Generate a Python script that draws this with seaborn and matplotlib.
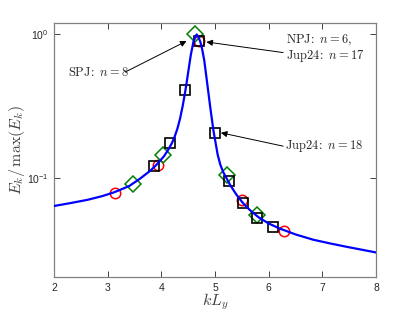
import numpy as np
import pandas as pd
import seaborn as sns
import matplotlib
matplotlib.use('Agg')
import matplotlib.pyplot as plt

# curve
curve_k = [2.00, 2.30, 2.62, 2.90, 3.12, 3.40, 3.60, 3.80, 3.91, 4.05, 4.13, 4.20, 4.25, 4.30,
           4.35, 4.40, 4.44, 4.47, 4.50, 4.55, 4.60, 4.63, 4.66, 4.70, 4.73, 4.76, 4.80, 4.845,
           4.91, 4.97, 5.05, 5.10, 5.155, 5.28, 5.40, 5.53, 5.65, 5.81, 6.00, 6.20, 6.50, 6.83,
           7.15, 7.45, 7.75, 8.00]
curve_E = [0.0640, 0.0670, 0.0706, 0.0750, 0.0797, 0.0880, 0.0990, 0.113, 0.124, 0.142,
           0.158, 0.176, 0.195, 0.221, 0.260, 0.320, 0.389, 0.457, 0.543, 0.721, 0.894, 0.960,
           1.000, 0.944, 0.881, 0.794, 0.661, 0.490, 0.316, 0.216, 0.146, 0.124, 0.110, 0.0900,
           0.0767, 0.0665, 0.0600, 0.0535, 0.0484, 0.0447, 0.0406, 0.0373, 0.0351, 0.0333,
           0.0317, 0.0304]

# NPJ (red circles)
npj_k = [3.14, 3.93, 4.71, 5.50, 6.28]
npj_E = [0.079, 0.124, 0.898, 0.070, 0.043]
# SPJ (green diamonds)
spj_k = [3.47, 4.03, 4.63, 5.22, 5.79]
spj_E = [0.091, 0.145, 1.00, 0.106, 0.055]
# Jup24 (black squares)
jup_k = [3.87, 4.16, 4.44, 4.70, 5.00, 5.27, 5.53, 5.79, 6.09]
jup_E = [0.121, 0.176, 0.413, 0.898, 0.207, 0.096, 0.067, 0.053, 0.046]

sns.set_style('ticks')
plt.rcParams['mathtext.fontset'] = 'cm'
plt.rcParams['font.family'] = ['Liberation Sans', 'DejaVu Sans']

fig = plt.figure(figsize=(4.15, 3.12), dpi=100)
ax = fig.add_axes([0.130, 0.112, 0.776, 0.814])

curve = pd.DataFrame({'k': curve_k, 'E': curve_E})
sns.lineplot(data=curve, x='k', y='E', ax=ax, color='#0000ff', lw=1.6, zorder=5,
             estimator=None, sort=False)

ax.plot(npj_k, npj_E, 'o', ms=7.5, mfc='none', mec='#ff0000', mew=1.1, zorder=3)
ax.plot(spj_k, spj_E, 'D', ms=8, mfc='none', mec='#008000', mew=1.1, zorder=3)
ax.plot(jup_k, jup_E, 's', ms=7, mfc='none', mec='black', mew=1.2, zorder=4)

ax.set_yscale('log')
ax.set_xlim(2, 8)
ax.set_ylim(0.0205, 1.2)
ax.set_xticks([2, 3, 4, 5, 6, 7, 8])
ax.set_yticks([0.1, 1.0])
ax.minorticks_off()
ax.tick_params(direction='in', top=True, right=True, length=4, width=0.7,
               labelsize=7.5, colors='#404040', labelcolor='#262626', pad=4)
for s in ax.spines.values():
    s.set_color('#808080')
    s.set_linewidth(0.9)

ax.set_xlabel('$kL_y$', fontsize=11.5, color='#404040')
ax.set_ylabel(r'$E_k/\,\max(E_k)$', fontsize=11.5, color='#404040')
ax.xaxis.set_label_coords(0.5, -0.058)
ax.yaxis.set_label_coords(-0.084, 0.5)

akw = dict(arrowstyle='-|>', color='black', lw=0.7, mutation_scale=9, shrinkA=0, shrinkB=0)
tkw = dict(fontsize=9)

ax.annotate('', xy=(4.47, 0.90), xytext=(3.33, 0.548), arrowprops=akw)
ax.text(2.27, 0.548, r'$\mathrm{SPJ\!:}\ n = 8$', va='center', ha='left', **tkw)

ax.annotate('', xy=(4.84, 0.887), xytext=(6.27, 0.748), arrowprops=akw)
ax.text(6.32, 0.915, r'$\mathrm{NPJ\!:}\ n = 6,$', va='center', ha='left', **tkw)
ax.text(6.32, 0.708, r'$\mathrm{Jup24\!:}\ n = 17$', va='center', ha='left', **tkw)

ax.annotate('', xy=(5.11, 0.207), xytext=(6.27, 0.167), arrowprops=akw)
ax.text(6.30, 0.167, r'$\mathrm{Jup24\!:}\ n = 18$', va='center', ha='left', **tkw)

fig.savefig('out.png', dpi=100)
